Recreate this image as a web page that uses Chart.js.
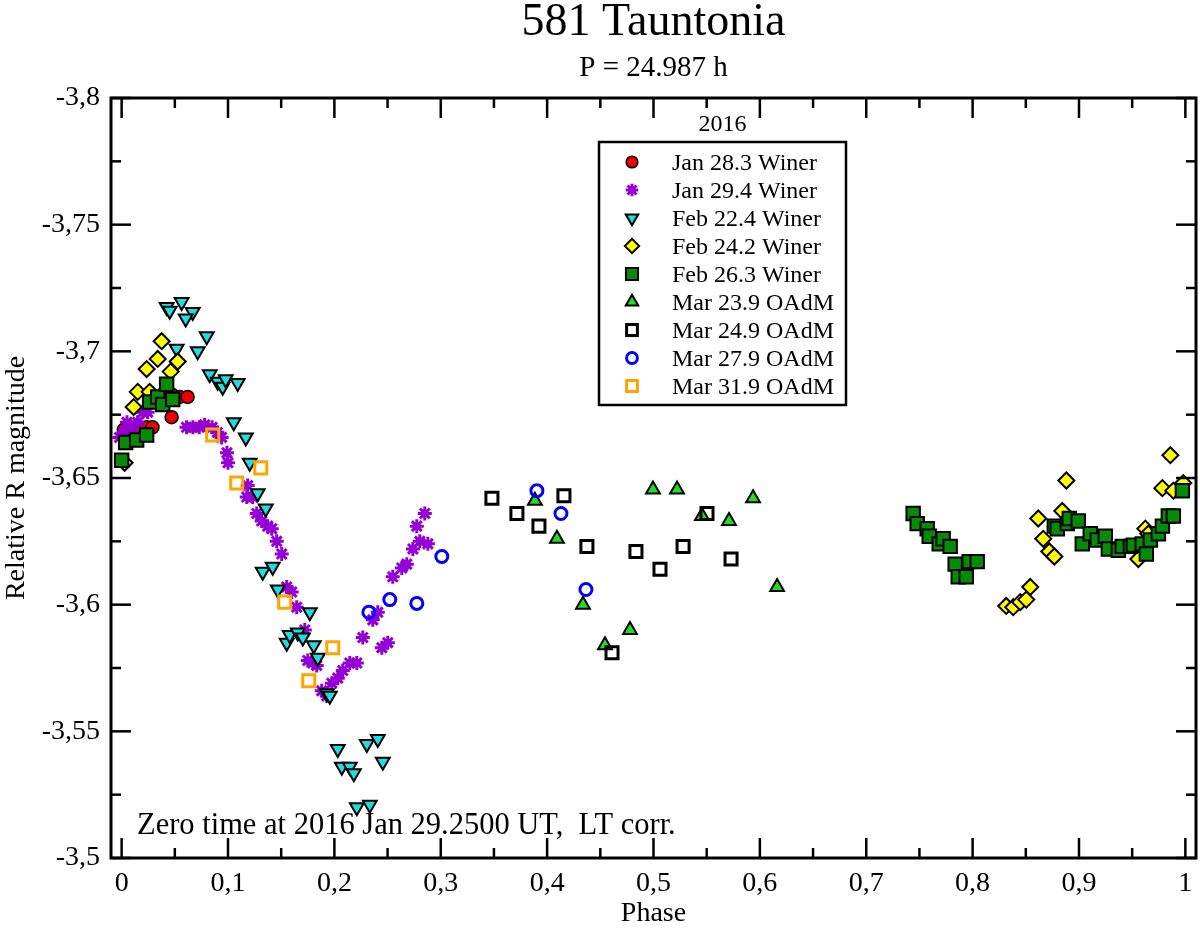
<!DOCTYPE html>
<html>
<head>
<meta charset="utf-8">
<title>581 Tauntonia</title>
<script src="https://cdn.jsdelivr.net/npm/chart.js@4.4.1/dist/chart.umd.min.js"></script>
<style>
  html, body { margin: 0; padding: 0; background: #ffffff; }
  #wrap { position: relative; width: 1200px; height: 931px; }
</style>
</head>
<body>
<div id="wrap"><canvas id="lightcurve"></canvas></div>
<script>
const SERIF = "'Liberation Serif', 'Times New Roman', serif";

// axis ticks
const xTicks = [0, 0.1, 0.2, 0.3, 0.4, 0.5, 0.6, 0.7, 0.8, 0.9, 1];
const yTicks = [-3.8, -3.75, -3.7, -3.65, -3.6, -3.55, -3.5];

// Jan 28.3 Winer
const jan28Phase = [0.002, 0.0085, 0.017, 0.0235, 0.029, 0.047, 0.0405, 0.047, 0.0546, 0.062];
const jan28Mag = [-3.669, -3.670, -3.670, -3.670, -3.670, -3.674, -3.684, -3.683, -3.682, -3.682];

// Jan 29.4 Winer
const jan29Phase = [-0.002, 0.002, 0.005, 0.010, 0.015, 0.020, 0.0245, 0.061, 0.067, 0.073, 0.078, 0.085,
  0.090, 0.094, 0.099, 0.100, 0.1185, 0.1176, 0.1232, 0.127, 0.1317, 0.1373, 0.1411, 0.1458, 0.1505, 0.1552,
  0.1599, 0.1646, 0.1722, 0.175, 0.1797, 0.1834, 0.1881, 0.1929, 0.1976, 0.2032, 0.2079, 0.2145, 0.2211,
  0.2267, 0.2361, 0.2408, 0.2446, 0.2502, 0.2549, 0.2634, 0.2681, 0.2738, 0.2803, 0.2879, 0.2775, 0.285];
const jan29Mag = [-3.666, -3.668, -3.672, -3.670, -3.672, -3.676, -3.676, -3.670, -3.670, -3.670, -3.671, -3.670,
  -3.668, -3.666, -3.660, -3.656, -3.647, -3.6425, -3.6425, -3.636, -3.633, -3.631, -3.630, -3.625, -3.620, -3.607,
  -3.605, -3.599, -3.590, -3.578, -3.577, -3.576, -3.566, -3.564, -3.569, -3.571, -3.574, -3.577, -3.577,
  -3.587, -3.594, -3.597, -3.583, -3.585, -3.611, -3.6145, -3.616, -3.622, -3.625, -3.624, -3.631, -3.636];

// Feb 22.4 Winer
const feb22Phase = [0.0423, 0.0452, 0.0564, 0.0668, 0.0602, 0.080, 0.0517, 0.0715, 0.0828, 0.0903, 0.095,
  0.0978, 0.1091, 0.1054, 0.1167, 0.1204, 0.1279, 0.1355, 0.1326, 0.142, 0.1468, 0.1769, 0.1552, 0.158,
  0.1656, 0.1703, 0.1806, 0.1844, 0.1929, 0.1957, 0.2032, 0.207, 0.2145, 0.2183, 0.2305, 0.2408, 0.2455,
  0.2211, 0.2333];
const feb22Mag = [-3.7175, -3.716, -3.7195, -3.7155, -3.713, -3.706, -3.701, -3.700, -3.691, -3.688, -3.686,
  -3.689, -3.6875, -3.672, -3.666, -3.656, -3.644, -3.638, -3.613, -3.615, -3.606, -3.597, -3.585, -3.588,
  -3.589, -3.587, -3.584, -3.579, -3.565, -3.564, -3.543, -3.536, -3.536, -3.5335, -3.545, -3.547, -3.538,
  -3.520, -3.521];

// Feb 24.2 Winer
const feb24Phase = [0.0028, 0.0113, 0.0151, 0.0263, 0.0235, 0.0339, 0.0376, 0.0461, 0.0527, 0.8316, 0.8382,
  0.8448, 0.8504, 0.8542, 0.8617, 0.8664, 0.8721, 0.8768, 0.8843, 0.8881, 0.9558, 0.9624, 0.9652, 0.9784,
  0.9859, 0.9887, 0.9981];
const feb24Mag = [-3.656, -3.678, -3.684, -3.684, -3.693, -3.697, -3.704, -3.692, -3.696, -3.5995, -3.599,
  -3.601, -3.602, -3.607, -3.634, -3.626, -3.621, -3.619, -3.637, -3.649, -3.618, -3.630, -3.628, -3.646,
  -3.659, -3.645, -3.648];

// Feb 26.3 Winer
const feb26Phase = [0.0, 0.0038, 0.0141, 0.0235, 0.0263, 0.0339, 0.0386, 0.0423, 0.048, 0.7441, 0.7479,
  0.7573, 0.7592, 0.7686, 0.7723, 0.7789, 0.7836, 0.7865, 0.794, 0.7968, 0.8043, 0.8768, 0.8796, 0.889,
  0.8909, 0.8993, 0.9031, 0.9106, 0.9172, 0.9247, 0.9276, 0.937, 0.9407, 0.9483, 0.9511, 0.9595, 0.9633,
  0.9671, 0.9746, 0.9784, 0.984, 0.9887, 0.9972];
const feb26Mag = [-3.657, -3.664, -3.665, -3.667, -3.680, -3.682, -3.679, -3.687, -3.681, -3.636, -3.632,
  -3.630, -3.627, -3.624, -3.626, -3.623, -3.616, -3.611, -3.611, -3.617, -3.617, -3.631, -3.630, -3.632,
  -3.634, -3.633, -3.624, -3.628, -3.6255, -3.627, -3.622, -3.6215, -3.623, -3.623, -3.6235, -3.624, -3.620,
  -3.6255, -3.628, -3.631, -3.635, -3.635, -3.645];

// Mar 23.9 OAdM
const mar23Phase = [0.3885, 0.4092, 0.4337, 0.4544, 0.4779, 0.4995, 0.5221, 0.5456, 0.571, 0.5936, 0.6162];
const mar23Mag = [-3.641, -3.626, -3.600, -3.584, -3.590, -3.6455, -3.6455, -3.635, -3.633, -3.642, -3.607];

// Mar 24.9 OAdM
const mar24Phase = [0.3481, 0.3716, 0.3923, 0.4158, 0.4374, 0.461, 0.4835, 0.5061, 0.5278, 0.5503, 0.5729];
const mar24Mag = [-3.642, -3.636, -3.631, -3.643, -3.623, -3.581, -3.621, -3.614, -3.623, -3.636, -3.618];

// Mar 27.9 OAdM
const mar27Phase = [0.2324, 0.2521, 0.2775, 0.301, 0.3904, 0.413, 0.4365];
const mar27Mag = [-3.597, -3.602, -3.6005, -3.619, -3.645, -3.636, -3.606];

// Mar 31.9 OAdM
const mar31Phase = [0.0856, 0.1082, 0.1308, 0.1533, 0.1759, 0.1985];
const mar31Mag = [-3.667, -3.648, -3.654, -3.601, -3.570, -3.583];

const toPoints = (xs, ys) => xs.map((x, i) => ({ x, y: ys[i] }));

const series = [
  { label: 'Jan 28.3 Winer', data: toPoints(jan28Phase, jan28Mag), pointStyle: 'circle', pointRadius: 6.5,
    backgroundColor: '#ee0000', borderColor: '#000000', borderWidth: 1.5 },
  { label: 'Jan 29.4 Winer', data: toPoints(jan29Phase, jan29Mag), pointStyle: 'star', pointRadius: 7,
    backgroundColor: '#9400d3', borderColor: '#9400d3', borderWidth: 3 },
  { label: 'Feb 22.4 Winer', data: toPoints(feb22Phase, feb22Mag), pointStyle: 'triangle', rotation: 180,
    pointRadius: 8, backgroundColor: '#22dddd', borderColor: '#000000', borderWidth: 2 },
  { label: 'Feb 24.2 Winer', data: toPoints(feb24Phase, feb24Mag), pointStyle: 'rectRot', pointRadius: 8,
    backgroundColor: '#ffff00', borderColor: '#000000', borderWidth: 2 },
  { label: 'Feb 26.3 Winer', data: toPoints(feb26Phase, feb26Mag), pointStyle: 'rect', pointRadius: 9.5,
    backgroundColor: '#078a07', borderColor: '#000000', borderWidth: 2 },
  { label: 'Mar 23.9 OAdM', data: toPoints(mar23Phase, mar23Mag), pointStyle: 'triangle', pointRadius: 8,
    backgroundColor: '#22dd22', borderColor: '#000000', borderWidth: 2 },
  { label: 'Mar 24.9 OAdM', data: toPoints(mar24Phase, mar24Mag), pointStyle: 'rect', pointRadius: 8.5,
    backgroundColor: 'rgba(0, 0, 0, 0)', borderColor: '#000000', borderWidth: 3 },
  { label: 'Mar 27.9 OAdM', data: toPoints(mar27Phase, mar27Mag), pointStyle: 'circle', pointRadius: 6,
    backgroundColor: 'rgba(0, 0, 0, 0)', borderColor: '#0000ff', borderWidth: 3 },
  { label: 'Mar 31.9 OAdM', data: toPoints(mar31Phase, mar31Mag), pointStyle: 'rect', pointRadius: 8.5,
    backgroundColor: 'rgba(0, 0, 0, 0)', borderColor: '#ffa500', borderWidth: 3 },
];

// later sets sit on top, as in the original plot
const datasets = series.map((s, i) => ({
  ...s,
  pointHoverRadius: s.pointRadius,
  showLine: false,
  order: series.length - i,
}));

const fmt = (value) => String(value).replace('.', ',');

// inward ticks on all four sides plus the box frame
const frameTicks = {
  id: 'frameTicks',
  afterDraw(chart) {
    const { ctx, chartArea: a, scales: { x, y } } = chart;
    const line = (x1, y1, x2, y2) => {
      ctx.beginPath();
      ctx.moveTo(x1, y1);
      ctx.lineTo(x2, y2);
      ctx.stroke();
    };
    ctx.save();
    ctx.strokeStyle = '#000';
    ctx.lineWidth = 2.5;
    for (let i = 0; i < xTicks.length; i++) {
      const px = x.getPixelForValue(xTicks[i]);
      line(px, a.bottom, px, a.bottom - 20);
      line(px, a.top, px, a.top + 20);
      if (i < xTicks.length - 1) {
        const mx = x.getPixelForValue((xTicks[i] + xTicks[i + 1]) / 2);
        line(mx, a.bottom, mx, a.bottom - 10);
        line(mx, a.top, mx, a.top + 10);
      }
    }
    for (let i = 0; i < yTicks.length; i++) {
      const py = y.getPixelForValue(yTicks[i]);
      line(a.left, py, a.left + 20, py);
      line(a.right, py, a.right - 20, py);
      if (i < yTicks.length - 1) {
        const my = y.getPixelForValue((yTicks[i] + yTicks[i + 1]) / 2);
        line(a.left, my, a.left + 10, my);
        line(a.right, my, a.right - 10, my);
      }
    }
    ctx.lineWidth = 3;
    ctx.strokeRect(a.left, a.top, a.right - a.left, a.bottom - a.top);
    ctx.restore();
  },
};

// titles, note and the boxed legend
const annotations = {
  id: 'annotations',
  afterDraw(chart) {
    const { ctx, chartArea: a } = chart;
    const mid = (a.left + a.right) / 2;
    ctx.save();
    ctx.fillStyle = '#000';
    ctx.textAlign = 'center';
    ctx.textBaseline = 'alphabetic';
    ctx.font = `46px ${SERIF}`;
    ctx.fillText('581 Tauntonia', mid, 35);
    ctx.font = `29px ${SERIF}`;
    ctx.fillText('P = 24.987 h', mid, 76);

    ctx.textAlign = 'left';
    ctx.font = `30.5px ${SERIF}`;
    ctx.fillText('Zero time at 2016 Jan 29.2500 UT,  LT corr.', 137, 834);

    // legend
    const box = { left: 599, top: 142, right: 846, bottom: 405 };
    ctx.fillStyle = '#fff';
    ctx.fillRect(box.left, box.top, box.right - box.left, box.bottom - box.top);
    ctx.strokeStyle = '#000';
    ctx.lineWidth = 2.5;
    ctx.strokeRect(box.left, box.top, box.right - box.left, box.bottom - box.top);
    ctx.fillStyle = '#000';
    ctx.font = `24px ${SERIF}`;
    ctx.textAlign = 'center';
    ctx.fillText('2016', (box.left + box.right) / 2, 131);
    ctx.textAlign = 'left';
    series.forEach((s, i) => {
      const base = 170 + 28 * i;
      ctx.fillStyle = s.backgroundColor;
      ctx.strokeStyle = s.borderColor;
      ctx.lineWidth = s.borderWidth;
      Chart.helpers.drawPoint(ctx, {
        pointStyle: s.pointStyle,
        rotation: s.rotation || 0,
        radius: s.pointRadius * 0.9,
        borderWidth: s.borderWidth,
      }, 632, base - 8);
      ctx.fillStyle = '#000';
      ctx.fillText(s.label, 672, base);
    });
    ctx.restore();
  },
};

new Chart(document.getElementById('lightcurve').getContext('2d'), {
  type: 'scatter',
  data: { datasets },
  plugins: [frameTicks, annotations],
  options: {
    responsive: true,
    maintainAspectRatio: false,
    animation: false,
    layout: { autoPadding: false, padding: { top: 98, right: 4, bottom: 0, left: 0 } },
    plugins: {
      legend: { display: false },
      tooltip: { enabled: false },
    },
    scales: {
      x: {
        type: 'linear',
        min: -0.01,
        max: 1.01,
        afterBuildTicks: (scale) => {
          scale.ticks = xTicks.map((value) => ({ value }));
        },
        afterFit: (scale) => {
          scale.height = 73;
          scale.paddingLeft = 0;
          scale.paddingRight = 0;
        },
        grid: { display: false, drawTicks: false },
        border: { display: false },
        ticks: {
          color: '#000',
          padding: 9,
          maxRotation: 0,
          autoSkip: false,
          font: { family: SERIF, size: 28 },
          callback: fmt,
        },
        title: {
          display: true,
          text: 'Phase',
          color: '#000',
          padding: { top: 0, bottom: 1 },
          font: { family: SERIF, size: 28 },
        },
      },
      y: {
        type: 'linear',
        min: -3.8,
        max: -3.5,
        reverse: true,
        afterBuildTicks: (scale) => {
          scale.ticks = yTicks.map((value) => ({ value }));
        },
        afterFit: (scale) => {
          scale.width = 111;
          scale.paddingTop = 0;
          scale.paddingBottom = 0;
        },
        grid: { display: false, drawTicks: false },
        border: { display: false },
        ticks: {
          color: '#000',
          padding: 11,
          autoSkip: false,
          font: { family: SERIF, size: 28 },
          callback: fmt,
        },
        title: {
          display: true,
          text: 'Relative R magnitude',
          color: '#000',
          padding: { top: 0, bottom: 0 },
          font: { family: SERIF, size: 28 },
        },
      },
    },
  },
});
</script>
</body>
</html>
